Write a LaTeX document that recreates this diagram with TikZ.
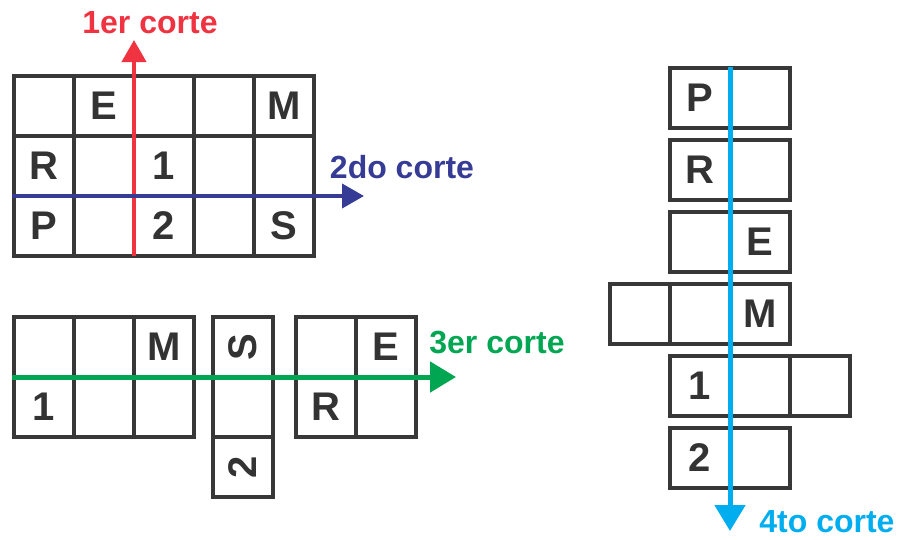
\documentclass[tikz,border=0pt]{standalone}
\usepackage{fontspec}
\setmainfont{Liberation Sans}
\usetikzlibrary{arrows.meta}
\definecolor{gridgray}{HTML}{383838}
\definecolor{lettergray}{HTML}{333333}
\definecolor{cutred}{HTML}{EF3340}
\definecolor{cutblue}{HTML}{363B96}
\definecolor{cutgreen}{HTML}{00A651}
\definecolor{cutcyan}{HTML}{00AEEF}
\tikzset{
  cell/.style={draw=gridgray, line width=4pt, minimum width=60pt, minimum height=60pt,
    inner sep=0pt, text=lettergray, font=\fontsize{40}{40}\selectfont\bfseries},
  turned/.style={inner sep=0pt, text=lettergray, font=\fontsize{40}{40}\selectfont\bfseries, rotate=90},
  cutlabel/.style={anchor=base, inner sep=0pt, font=\fontsize{32}{32}\selectfont\bfseries},
  thincut/.style={line width=4pt, -{Triangle[length=22pt,width=24pt]}},
  thickcut/.style={line width=5pt, -{Triangle[length=26pt,width=30pt]}}
}
\begin{document}
\begin{tikzpicture}[x=1pt,y=-1pt]
\useasboundingbox (0,0) rectangle (900,539);

% original 5x3 sheet
\node[cell] (a11) at (44,106) {};
\node[cell] (a12) at (104,106) {E};
\node[cell] (a13) at (164,106) {};
\node[cell] (a14) at (224,106) {};
\node[cell] (a15) at (284,106) {M};
\node[cell] (a21) at (44,166) {R};
\node[cell] (a22) at (104,166) {};
\node[cell] (a23) at (164,166) {1};
\node[cell] (a24) at (224,166) {};
\node[cell] (a25) at (284,166) {};
\node[cell] (a31) at (44,226) {P};
\node[cell] (a32) at (104,226) {};
\node[cell] (a33) at (164,226) {2};
\node[cell] (a34) at (224,226) {};
\node[cell] (a35) at (284,226) {S};

% pieces after the first two cuts
\node[cell] (b11) at (44,347) {};
\node[cell] (b12) at (104,347) {};
\node[cell] (b13) at (164,347) {M};
\node[cell] (b21) at (44,407) {1};
\node[cell] (b22) at (104,407) {};
\node[cell] (b23) at (164,407) {};

\node[cell] (s1) at (243,347) {};
\node[cell] (s2) at (243,407) {};
\node[cell] (s3) at (243,467) {};
\node[turned] (s1t) at (s1) {S};
\node[turned] (s3t) at (s3) {2};

\node[cell] (c11) at (326,347) {};
\node[cell] (c12) at (386,347) {E};
\node[cell] (c21) at (326,407) {R};
\node[cell] (c22) at (386,407) {};

% strips after the third cut
\node[cell] (d11) at (700,98) {P};
\node[cell] (d12) at (760,98) {};
\node[cell] (d21) at (700,170) {R};
\node[cell] (d22) at (760,170) {};
\node[cell] (d31) at (700,242) {};
\node[cell] (d32) at (760,242) {E};
\node[cell] (d40) at (640,314) {};
\node[cell] (d41) at (700,314) {};
\node[cell] (d42) at (760,314) {M};
\node[cell] (d51) at (700,386) {1};
\node[cell] (d52) at (760,386) {};
\node[cell] (d53) at (820,386) {};
\node[cell] (d61) at (700,458) {2};
\node[cell] (d62) at (760,458) {};

% cut lines
\coordinate (r0) at (134,256);
\coordinate (r1) at (134,40);
\coordinate (u0) at (12,196);
\coordinate (u1) at (364,196);
\coordinate (g0) at (12,377);
\coordinate (g1) at (456,377);
\coordinate (k0) at (730,67);
\coordinate (k1) at (730,531);

\draw[thincut, cutred] (r0) -- (r1);
\draw[thincut, cutblue] (u0) -- (u1);
\draw[thickcut, cutgreen] (g0) -- (g1);
\draw[thickcut, cutcyan] (k0) -- (k1);

\node[cutlabel, text=cutred] (l1) at (150,33) {1er corte};
\node[cutlabel, text=cutblue] (l2) at (402,178) {2do corte};
\node[cutlabel, text=cutgreen] (l3) at (497,353) {3er corte};
\node[cutlabel, text=cutcyan] (l4) at (827,532) {4to corte};
\end{tikzpicture}
\end{document}
